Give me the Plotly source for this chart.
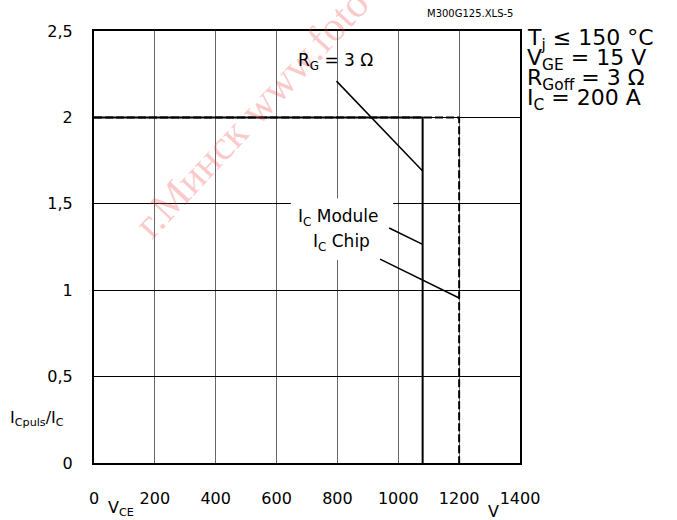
import plotly.graph_objects as go

# ---- data ----
module_v = [0, 1080, 1080]      # V_CE [V]
module_ratio = [2, 2, 0]        # I_Cpuls / I_C
chip_v = [0, 1200, 1200]
chip_ratio = [2, 2, 0]

x_ticks = [0, 200, 400, 600, 800, 1000, 1200, 1400]
x_ticktext = ["0", "200", "400", "600", "800", "1000", "1200", "1400"]
y_ticks = [0, 0.5, 1, 1.5, 2, 2.5]
y_ticktext = ["0", "0,5", "1", "1,5", "2", "2,5"]

# pointer lines (label -> curve), in data units
rg_ptr = dict(x0=797, y0=2.21, x1=1080, y1=1.69)
mod_ptr = dict(x0=970, y0=1.36, x1=1080, y1=1.265)
chip_ptr = dict(x0=940, y0=1.18, x1=1200, y1=0.955)

FONT = "DejaVu Sans, Arial, sans-serif"

fig = go.Figure()
fig.add_trace(go.Scatter(x=chip_v, y=chip_ratio, mode="lines",
                         line=dict(color="black", width=2, dash="8px,3px"),
                         hoverinfo="skip", showlegend=False))
fig.add_trace(go.Scatter(x=module_v, y=module_ratio, mode="lines",
                         line=dict(color="black", width=2),
                         hoverinfo="skip", showlegend=False))

shapes = [
    # white box behind the I_C labels (interrupts the grid)
    dict(type="rect", xref="x", yref="y", x0=647, x1=983, y0=1.175, y1=1.53,
         fillcolor="white", line=dict(width=0), layer="above"),
]
for p in (rg_ptr, mod_ptr, chip_ptr):
    shapes.append(dict(type="line", xref="x", yref="y", layer="above",
                       line=dict(color="black", width=1.5), **p))


def px_x(px):
    return (px - 94) / 426


def px_y(py):
    return (466 - py) / 434.5


annotations = [
    dict(text="г.Минск www.foto", xref="paper", yref="paper",
         x=px_x(251), y=px_y(115), xanchor="center", yanchor="middle",
         showarrow=False, textangle=-47,
         font=dict(family="Liberation Serif, serif", size=42,
                   color="rgba(240,70,70,0.28)")),
    dict(text="M300G125.XLS-5", xref="paper", yref="paper", x=px_x(515),
         y=px_y(14), xanchor="right", yanchor="middle", showarrow=False,
         font=dict(family=FONT, size=10, color="black")),
    dict(text="R<sub>G</sub> = 3 Ω", xref="x", yref="y", x=795, y=2.325,
         showarrow=False, font=dict(family=FONT, size=17, color="black")),
    dict(text="I<sub>C</sub> Module", xref="x", yref="y", x=805, y=1.42,
         showarrow=False, font=dict(family=FONT, size=17, color="black")),
    dict(text="I<sub>C</sub> Chip", xref="x", yref="y", x=815, y=1.275,
         showarrow=False, font=dict(family=FONT, size=17, color="black")),
    dict(text="I<sub>Cpuls</sub>/I<sub>C</sub>", xref="paper", yref="paper",
         x=px_x(37), y=px_y(421), xanchor="center", yanchor="middle",
         showarrow=False, font=dict(family=FONT, size=16, color="black")),
    dict(text="V<sub>CE</sub>", xref="paper", yref="paper", x=px_x(106),
         y=px_y(499), xanchor="left", yanchor="top", showarrow=False,
         font=dict(family=FONT, size=16, color="black")),
    dict(text="V", xref="paper", yref="paper", x=px_x(493),
         y=px_y(503), xanchor="center", yanchor="top", showarrow=False,
         font=dict(family=FONT, size=16, color="black")),
]
right_lines = ["T<sub>j</sub> ≤ 150 °C", "V<sub>GE</sub> = 15 V",
               "R<sub>Goff</sub> = 3 Ω", "I<sub>C</sub> = 200 A"]
for i, t in enumerate(right_lines):
    annotations.append(dict(text=t, xref="paper", yref="paper",
                            x=px_x(525), y=px_y(40 + 20 * i),
                            xanchor="left", yanchor="middle", showarrow=False,
                            font=dict(family=FONT, size=22, color="black")))

fig.update_layout(
    width=677, height=520,
    margin=dict(l=94, r=157, t=31, b=54),
    paper_bgcolor="white", plot_bgcolor="white",
    font=dict(family=FONT, color="black"),
    shapes=shapes, annotations=annotations, showlegend=False,
    xaxis=dict(range=[0, 1400], tickvals=x_ticks, ticktext=x_ticktext,
               showgrid=True, gridcolor="#666666", gridwidth=1,
               showline=True, mirror=True, linecolor="black", linewidth=2,
               ticks="", ticklabelstandoff=20, zeroline=False,
               tickfont=dict(family=FONT, size=16, color="black"), fixedrange=True),
    yaxis=dict(range=[0, 2.5], tickvals=y_ticks, ticktext=y_ticktext,
               showgrid=True, gridcolor="black", gridwidth=1,
               showline=True, mirror=True, linecolor="black", linewidth=2,
               ticks="", ticklabelstandoff=16, zeroline=False,
               tickfont=dict(family=FONT, size=16, color="black"), fixedrange=True),
)

fig.write_html("out.html")
